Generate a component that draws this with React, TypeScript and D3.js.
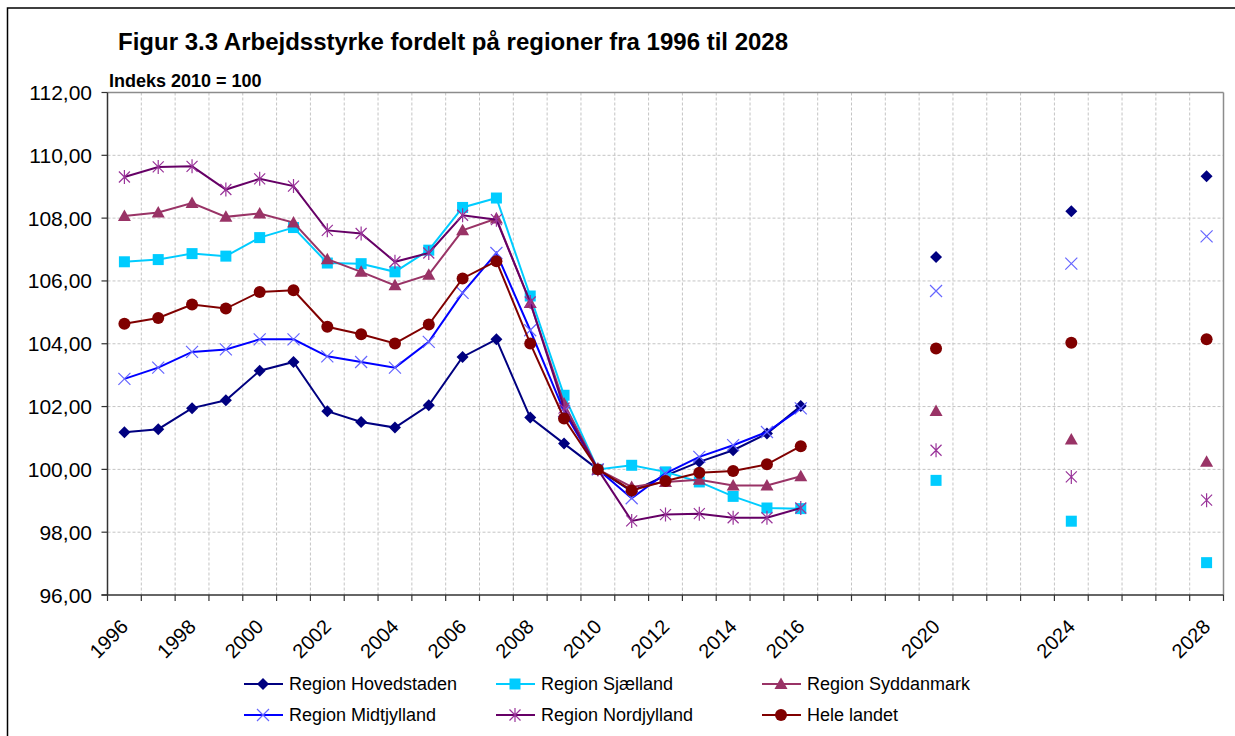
import * as d3 from "d3";

// category slots on the x axis (one per year, only some are used)
const axisYears = d3.range(1996, 2029);
const labelYears = [1996, 1998, 2000, 2002, 2004, 2006, 2008, 2010, 2012, 2014, 2016, 2020, 2024, 2028];
const dataYears = [
  1996, 1997, 1998, 1999, 2000, 2001, 2002, 2003, 2004, 2005, 2006, 2007, 2008,
  2009, 2010, 2011, 2012, 2013, 2014, 2015, 2016, 2020, 2024, 2028,
];
const yTicks = [96, 98, 100, 102, 104, 106, 108, 110, 112];

const hovedstaden = [
  101.18, 101.28, 101.95, 102.2, 103.14, 103.42, 101.85, 101.51, 101.33, 102.04, 103.58, 104.14, 101.65,
  100.82, 100.0, 99.3, 99.8, 100.24, 100.61, 101.14, 102.02, 106.76, 108.22, 109.33,
];
const sjaelland = [
  106.61, 106.68, 106.87, 106.79, 107.38, 107.7, 106.57, 106.55, 106.29, 106.98, 108.34, 108.64, 105.52,
  102.36, 100.0, 100.13, 99.92, 99.6, 99.14, 98.77, 98.75, 99.65, 98.35, 97.03,
];
const syddanmark = [
  108.07, 108.18, 108.48, 108.04, 108.15, 107.86, 106.69, 106.29, 105.86, 106.2, 107.61, 107.99, 105.3,
  102.1, 100.0, 99.44, 99.6, 99.67, 99.49, 99.49, 99.78, 101.86, 100.95, 100.24,
];
const midtjylland = [
  102.88, 103.24, 103.74, 103.82, 104.14, 104.14, 103.6, 103.42, 103.24, 104.06, 105.62, 106.89, 104.43,
  101.85, 100.0, 99.08, 99.87, 100.4, 100.77, 101.19, 101.94, 105.68, 106.55, 107.42,
];
const nordjylland = [
  109.31, 109.63, 109.65, 108.91, 109.25, 109.02, 107.61, 107.51, 106.61, 106.89, 108.09, 107.95, 105.33,
  101.95, 100.0, 98.36, 98.56, 98.59, 98.46, 98.46, 98.77, 100.61, 99.76, 99.02,
];
const heleLandet = [
  104.64, 104.82, 105.25, 105.12, 105.65, 105.7, 104.54, 104.3, 104.01, 104.61, 106.08, 106.63, 104.01,
  101.62, 100.0, 99.33, 99.63, 99.89, 99.95, 100.16, 100.74, 103.85, 104.03, 104.14,
];

type Shape = "diamond" | "square" | "triangle" | "x" | "star" | "circle";

const series: { name: string; values: number[]; line: string; marker: string; shape: Shape }[] = [
  { name: "Region Hovedstaden", values: hovedstaden, line: "#000080", marker: "#000080", shape: "diamond" },
  { name: "Region Sjælland", values: sjaelland, line: "#00ccff", marker: "#00ccff", shape: "square" },
  { name: "Region Syddanmark", values: syddanmark, line: "#993366", marker: "#993366", shape: "triangle" },
  { name: "Region Midtjylland", values: midtjylland, line: "#0000ff", marker: "#6666ff", shape: "x" },
  { name: "Region Nordjylland", values: nordjylland, line: "#660066", marker: "#993399", shape: "star" },
  { name: "Hele landet", values: heleLandet, line: "#800000", marker: "#800000", shape: "circle" },
];

const W = 1235;
const H = 736;
const plot = { left: 107.5, right: 1223.5, top: 92.5, bottom: 595 };
const font = "Arial, 'Liberation Sans', sans-serif";

const Marker = ({ shape, x, y, color }: { shape: Shape; x: number; y: number; color: string }) => {
  const t = `translate(${x},${y})`;
  if (shape === "diamond") return <path transform={t} d="M0,-6L6,0L0,6L-6,0Z" fill={color} />;
  if (shape === "square") return <rect x={x - 5.5} y={y - 5.5} width={11} height={11} fill={color} />;
  if (shape === "triangle") return <path transform={t} d="M0,-6.5L6.5,5L-6.5,5Z" fill={color} />;
  if (shape === "circle") return <circle cx={x} cy={y} r={6} fill={color} />;
  if (shape === "x")
    return <path transform={t} d="M-6,-6L6,6M-6,6L6,-6" stroke={color} strokeWidth={1.2} fill="none" />;
  return (
    <path
      transform={t}
      d="M-5.5,-5.5L5.5,5.5M-5.5,5.5L5.5,-5.5M0,-7L0,7"
      stroke={color}
      strokeWidth={1.2}
      fill="none"
    />
  );
};

export default function App() {
  const x = d3
    .scaleBand<number>()
    .domain(axisYears)
    .range([plot.left, plot.right])
    .padding(0);
  const y = d3.scaleLinear().domain([96, 112]).range([plot.bottom, plot.top]);
  const cx = (yr: number) => (x(yr) || 0) + x.bandwidth() / 2;

  const line = d3
    .line<[number, number]>()
    .x((d) => cx(d[0]))
    .y((d) => y(d[1]));

  const boundaries = axisYears.map((yr) => x(yr) || 0).concat([plot.right]);

  const legendCols = [244, 496, 762];
  const legendRows = [684, 715];

  return (
    <svg width={W} height={H} style={{ position: "absolute", left: 0, top: 0, background: "#fff" }}>
      <rect x={7.5} y={8} width={W + 10} height={H + 10} fill="#fff" stroke="#000" strokeWidth={1.5} />

      <text x={118} y={50} fontFamily={font} fontSize={24} fontWeight="bold" fill="#000">
        Figur 3.3 Arbejdsstyrke fordelt på regioner fra 1996 til 2028
      </text>
      <text x={109} y={87} fontFamily={font} fontSize={18} fontWeight="bold" fill="#000">
        Indeks 2010 = 100
      </text>

      {/* gridlines */}
      {boundaries.slice(1, -1).map((bx, i) => (
        <line key={`vg${i}`} x1={bx} x2={bx} y1={plot.top} y2={plot.bottom} stroke="#c4c4c4" strokeDasharray="3,2" />
      ))}
      {yTicks.slice(1, -1).map((t) => (
        <line key={`hg${t}`} x1={plot.left} x2={plot.right} y1={y(t)} y2={y(t)} stroke="#c4c4c4" strokeDasharray="3,2" />
      ))}

      {/* frame */}
      <line x1={plot.left} x2={plot.right} y1={plot.top} y2={plot.top} stroke="#8c8c8c" strokeWidth={1.5} />
      <line x1={plot.right} x2={plot.right} y1={plot.top} y2={plot.bottom} stroke="#8c8c8c" strokeWidth={1.5} />
      <line x1={plot.left} x2={plot.left} y1={plot.top} y2={plot.bottom} stroke="#333" strokeWidth={1.5} />
      <line x1={plot.left - 6} x2={plot.right} y1={plot.bottom} y2={plot.bottom} stroke="#333" strokeWidth={1.5} />

      {/* y axis */}
      {yTicks.map((t) => (
        <g key={`yt${t}`}>
          <line x1={plot.left - 6} x2={plot.left} y1={y(t)} y2={y(t)} stroke="#333" strokeWidth={1.2} />
          <text
            x={92}
            y={y(t)}
            textAnchor="end"
            dominantBaseline="central"
            fontFamily={font}
            fontSize={21}
            fill="#000"
          >
            {d3.format(".2f")(t).replace(".", ",")}
          </text>
        </g>
      ))}

      {/* x axis */}
      {boundaries.map((bx, i) => (
        <line key={`xt${i}`} x1={bx} x2={bx} y1={plot.bottom} y2={plot.bottom + 6} stroke="#333" strokeWidth={1.2} />
      ))}
      {labelYears.map((yr) => (
        <text
          key={`xl${yr}`}
          transform={`translate(${cx(yr) + 5},${628}) rotate(-45)`}
          textAnchor="end"
          fontFamily={font}
          fontSize={20}
          fill="#000"
        >
          {yr}
        </text>
      ))}

      {/* series */}
      {series.map((s) => {
        const pts: [number, number][] = dataYears.map((yr, i) => [yr, s.values[i]]);
        const connected = pts.filter((p) => p[0] <= 2016);
        return (
          <g key={s.name}>
            <path d={line(connected) || ""} fill="none" stroke={s.line} strokeWidth={2} />
            {pts.map((p) => (
              <Marker key={p[0]} shape={s.shape} x={cx(p[0])} y={y(p[1])} color={s.marker} />
            ))}
          </g>
        );
      })}

      {/* legend */}
      {series.map((s, i) => {
        const lx = legendCols[i % 3];
        const ly = legendRows[Math.floor(i / 3)];
        return (
          <g key={`lg${s.name}`}>
            <line x1={lx} x2={lx + 39} y1={ly} y2={ly} stroke={s.line} strokeWidth={2} />
            <Marker shape={s.shape} x={lx + 19} y={ly} color={s.marker} />
            <text
              x={lx + 45}
              y={ly}
              dominantBaseline="central"
              fontFamily={font}
              fontSize={18}
              fill="#000"
            >
              {s.name}
            </text>
          </g>
        );
      })}
    </svg>
  );
}
